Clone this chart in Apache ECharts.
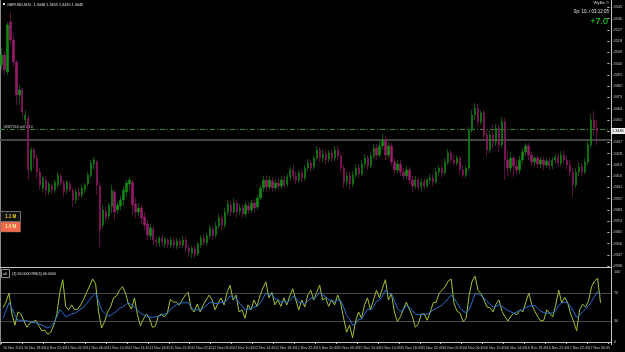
<!DOCTYPE html>
<html><head><meta charset="utf-8">
<script src="https://cdn.jsdelivr.net/npm/echarts@6/dist/echarts.min.js"></script>
<style>html,body{margin:0;padding:0;background:#000;}#c{width:625px;height:352px;}</style>
</head><body><div id="c"></div>
<script>
const candleOpen = [1.34988,1.35068,1.34932,1.35332,1.35188,1.35012,1.34748,1.34788,1.34548,1.34564,
1.34148,1.34308,1.34244,1.34132,1.34004,1.34068,1.33972,1.34020,1.33988,1.34028,
1.34100,1.34044,1.33988,1.34036,1.33988,1.33908,1.33972,1.33948,1.33988,1.34036,
1.34100,1.34196,1.34212,1.34020,1.33708,1.33812,1.33780,1.33860,1.33972,1.33828,
1.33860,1.33908,1.33972,1.34036,1.34052,1.33876,1.33812,1.33844,1.33772,1.33716,
1.33620,1.33676,1.33588,1.33564,1.33604,1.33556,1.33588,1.33548,1.33580,1.33540,
1.33580,1.33548,1.33588,1.33524,1.33484,1.33516,1.33476,1.33548,1.33604,1.33564,
1.33620,1.33676,1.33628,1.33700,1.33756,1.33708,1.33812,1.33868,1.33812,1.33884,
1.33820,1.33844,1.33796,1.33860,1.33828,1.33884,1.33852,1.33924,1.34004,1.34068,
1.34012,1.34060,1.34004,1.34044,1.34020,1.34068,1.34036,1.34092,1.34148,1.34100,
1.34068,1.34124,1.34084,1.34164,1.34204,1.34172,1.34244,1.34308,1.34244,1.34276,
1.34236,1.34284,1.34244,1.34308,1.34260,1.34164,1.34052,1.34100,1.34036,1.34108,
1.34164,1.34116,1.34196,1.34244,1.34180,1.34260,1.34324,1.34268,1.34340,1.34388,
1.34268,1.34340,1.34212,1.34148,1.34196,1.34132,1.34100,1.34148,1.34068,1.34020,
1.34068,1.34012,1.34052,1.34020,1.34068,1.34084,1.34052,1.34132,1.34164,1.34124,
1.34212,1.34284,1.34228,1.34204,1.34244,1.34148,1.34108,1.34164,1.34468,1.34588,
1.34644,1.34532,1.34604,1.34428,1.34308,1.34428,1.34372,1.34484,1.34348,1.34532,
1.34228,1.34164,1.34244,1.34180,1.34148,1.34228,1.34292,1.34340,1.34268,1.34212,
1.34244,1.34196,1.34228,1.34188,1.34220,1.34180,1.34228,1.34252,1.34204,1.34268,
1.34228,1.34188,1.34132,1.34028,1.34132,1.34172,1.34132,1.34212,1.34348,1.34548,
1.34484];
const candleClose = [1.35068,1.34948,1.35308,1.35188,1.35012,1.34748,1.34788,1.34612,1.34588,1.34148,
1.34308,1.34244,1.34132,1.34028,1.34084,1.33988,1.34036,1.33988,1.34052,1.34108,
1.34044,1.33972,1.34052,1.33988,1.33908,1.33972,1.33940,1.34004,1.34028,1.34108,
1.34204,1.34228,1.34028,1.33668,1.33828,1.33764,1.33868,1.33988,1.33812,1.33868,
1.33908,1.33988,1.34044,1.34068,1.33868,1.33812,1.33844,1.33764,1.33708,1.33628,
1.33684,1.33588,1.33572,1.33604,1.33572,1.33596,1.33556,1.33588,1.33548,1.33580,
1.33548,1.33588,1.33524,1.33492,1.33524,1.33476,1.33556,1.33604,1.33564,1.33620,
1.33684,1.33620,1.33700,1.33764,1.33708,1.33812,1.33876,1.33812,1.33884,1.33812,
1.33844,1.33796,1.33868,1.33828,1.33884,1.33844,1.33924,1.34004,1.34068,1.34012,
1.34068,1.34004,1.34044,1.34020,1.34068,1.34028,1.34092,1.34148,1.34100,1.34068,
1.34124,1.34084,1.34164,1.34204,1.34164,1.34244,1.34308,1.34244,1.34276,1.34228,
1.34284,1.34244,1.34308,1.34260,1.34164,1.34052,1.34100,1.34036,1.34108,1.34164,
1.34116,1.34196,1.34244,1.34180,1.34260,1.34324,1.34268,1.34340,1.34388,1.34268,
1.34340,1.34212,1.34148,1.34196,1.34132,1.34100,1.34148,1.34068,1.34020,1.34068,
1.34012,1.34052,1.34020,1.34068,1.34084,1.34052,1.34132,1.34164,1.34124,1.34212,
1.34284,1.34228,1.34204,1.34244,1.34148,1.34108,1.34164,1.34468,1.34588,1.34644,
1.34532,1.34604,1.34428,1.34308,1.34428,1.34372,1.34484,1.34348,1.34532,1.34228,
1.34164,1.34244,1.34180,1.34148,1.34228,1.34292,1.34340,1.34268,1.34212,1.34244,
1.34196,1.34228,1.34188,1.34220,1.34180,1.34228,1.34252,1.34204,1.34268,1.34228,
1.34188,1.34132,1.34028,1.34132,1.34172,1.34132,1.34212,1.34348,1.34548,1.34484,
1.34460];
const candleLow = [1.34948,1.34908,1.34908,1.35148,1.34980,1.34668,1.34668,1.34564,1.34508,1.34068,
1.34132,1.34164,1.34084,1.33988,1.33972,1.33940,1.33948,1.33956,1.33964,1.34004,
1.34020,1.33932,1.33956,1.33972,1.33852,1.33876,1.33908,1.33924,1.33964,1.34020,
1.34084,1.34148,1.33948,1.33532,1.33684,1.33732,1.33748,1.33804,1.33748,1.33796,
1.33828,1.33860,1.33932,1.33988,1.33788,1.33764,1.33780,1.33716,1.33668,1.33588,
1.33588,1.33548,1.33532,1.33532,1.33540,1.33524,1.33524,1.33524,1.33516,1.33516,
1.33524,1.33524,1.33492,1.33452,1.33444,1.33444,1.33460,1.33524,1.33540,1.33540,
1.33596,1.33588,1.33604,1.33676,1.33668,1.33684,1.33788,1.33780,1.33796,1.33764,
1.33788,1.33764,1.33772,1.33796,1.33804,1.33812,1.33828,1.33908,1.33972,1.33972,
1.33988,1.33972,1.33980,1.33988,1.33996,1.34004,1.34012,1.34060,1.34068,1.34036,
1.34044,1.34052,1.34060,1.34140,1.34132,1.34148,1.34220,1.34212,1.34212,1.34196,
1.34212,1.34212,1.34220,1.34228,1.34132,1.34004,1.34020,1.33988,1.34012,1.34084,
1.34084,1.34100,1.34172,1.34148,1.34164,1.34236,1.34228,1.34244,1.34308,1.34228,
1.34244,1.34180,1.34108,1.34124,1.34100,1.34068,1.34076,1.34036,1.33972,1.33996,
1.33988,1.33980,1.33996,1.34004,1.34036,1.34020,1.34036,1.34100,1.34084,1.34108,
1.34188,1.34204,1.34180,1.34180,1.34116,1.34084,1.34084,1.34140,1.34444,1.34548,
1.34500,1.34508,1.34388,1.34252,1.34284,1.34324,1.34340,1.34292,1.34324,1.34068,
1.34100,1.34132,1.34092,1.34108,1.34116,1.34196,1.34260,1.34228,1.34180,1.34180,
1.34164,1.34164,1.34148,1.34164,1.34148,1.34156,1.34196,1.34172,1.34180,1.34196,
1.34148,1.34100,1.33932,1.34004,1.34100,1.34100,1.34116,1.34188,1.34324,1.34428,
1.34348];
const candleHigh = [1.35124,1.35092,1.35332,1.35412,1.35228,1.35028,1.34828,1.34804,1.34628,1.34588,
1.34332,1.34324,1.34268,1.34164,1.34100,1.34100,1.34052,1.34036,1.34068,1.34132,
1.34124,1.34068,1.34068,1.34060,1.34004,1.34004,1.34012,1.34028,1.34044,1.34132,
1.34228,1.34252,1.34228,1.34052,1.33868,1.33852,1.33884,1.34028,1.33988,1.33892,
1.33940,1.34020,1.34068,1.34092,1.34068,1.33924,1.33884,1.33868,1.33812,1.33748,
1.33716,1.33700,1.33620,1.33620,1.33628,1.33612,1.33604,1.33612,1.33604,1.33604,
1.33604,1.33620,1.33620,1.33548,1.33540,1.33540,1.33572,1.33628,1.33636,1.33652,
1.33708,1.33700,1.33732,1.33796,1.33788,1.33844,1.33908,1.33900,1.33924,1.33908,
1.33876,1.33876,1.33892,1.33892,1.33908,1.33916,1.33948,1.34028,1.34100,1.34108,
1.34100,1.34092,1.34076,1.34084,1.34100,1.34100,1.34116,1.34172,1.34188,1.34132,
1.34148,1.34156,1.34188,1.34236,1.34228,1.34268,1.34340,1.34332,1.34308,1.34300,
1.34308,1.34308,1.34340,1.34340,1.34284,1.34188,1.34132,1.34132,1.34140,1.34196,
1.34196,1.34228,1.34276,1.34268,1.34292,1.34356,1.34356,1.34380,1.34436,1.34420,
1.34372,1.34364,1.34244,1.34228,1.34228,1.34164,1.34180,1.34172,1.34100,1.34100,
1.34092,1.34084,1.34076,1.34092,1.34116,1.34108,1.34164,1.34188,1.34196,1.34244,
1.34316,1.34308,1.34268,1.34268,1.34260,1.34188,1.34188,1.34492,1.34628,1.34684,
1.34676,1.34628,1.34628,1.34468,1.34468,1.34516,1.34516,1.34508,1.34572,1.34564,
1.34308,1.34292,1.34268,1.34228,1.34260,1.34324,1.34364,1.34364,1.34292,1.34268,
1.34268,1.34252,1.34252,1.34244,1.34244,1.34252,1.34276,1.34284,1.34300,1.34308,
1.34260,1.34228,1.34164,1.34164,1.34212,1.34204,1.34244,1.34388,1.34596,1.34620,
1.34548];
const oscFast = [49,57,70,40,24,43,40,30,21,27,29,31,23,16,17,11,14,24,39,71,
89,50,46,53,46,47,53,61,71,80,90,83,43,20,29,43,50,63,66,74,
79,70,54,47,63,39,23,33,40,34,21,23,37,40,36,41,61,57,57,53,
60,67,71,47,43,54,43,53,60,67,60,46,56,63,53,71,81,60,67,43,
46,34,53,46,60,51,66,77,86,63,71,53,60,51,63,53,66,76,60,46,
60,50,67,74,60,71,81,60,63,51,60,53,67,56,34,14,24,6,29,43,
34,53,63,46,60,74,63,77,89,60,69,43,29,36,47,57,47,37,21,26,
40,40,31,43,56,57,70,74,79,87,90,54,44,41,29,34,66,87,94,74,
69,60,50,49,43,54,60,44,36,30,37,41,39,46,43,57,70,53,44,36,
30,31,46,41,36,53,74,56,64,56,40,29,16,46,54,50,59,79,87,91,56];
const oscSlow = [34,45,56,48,38,31,31,31,30,29,28,27,26,24,22,20,22,27,36,46,
42,36,38,40,41,44,47,50,55,60,66,70,58,46,41,37,38,41,44,48,
50,53,56,53,50,46,41,39,37,36,35,36,37,38,40,41,46,50,53,55,
56,56,56,50,46,46,46,48,52,56,57,55,55,57,56,60,66,63,63,56,
52,46,47,47,50,51,55,62,70,67,68,62,61,57,58,56,59,65,63,56,
57,54,58,63,62,65,71,67,65,60,60,57,60,59,50,38,33,24,26,32,
33,40,47,46,50,58,60,66,74,69,69,59,48,44,46,52,50,45,40,39,
39,40,40,42,46,48,50,53,57,62,67,62,56,48,44,42,46,57,69,69,
66,63,58,54,50,51,53,51,48,45,43,41,43,45,46,49,51,52,52,48,
44,42,41,41,42,45,52,56,57,56,50,43,35,38,43,47,52,58,65,72,66];
const timeLabels = ["10 Nov 2021","10 Nov 18:45","10 Nov 22:45","11 Nov 02:45","11 Nov 06:45","11 Nov 10:45","11 Nov 14:45","11 Nov 18:45","11 Nov 22:45","12 Nov 02:45","12 Nov 06:45","12 Nov 10:45","12 Nov 14:45","12 Nov 18:45","12 Nov 22:45","15 Nov 02:45","15 Nov 06:45","15 Nov 10:45","15 Nov 14:45","15 Nov 18:45","15 Nov 22:45","16 Nov 02:45","16 Nov 06:45","16 Nov 10:45","16 Nov 14:45","16 Nov 18:45","16 Nov 22:45","17 Nov 02:45","17 Nov 06:45"];
const oscLevels = [0, 30, 70, 100];
const priceMin = 1.3338, priceMax = 1.35508, priceStep = 0.0009;
const orderPrice = 1.34476;
const markPrice = 1.34388;

const GREEN = '#108a10', PINK = '#951a68', FG = '#c4c4c4';
const FONT = 'Liberation Sans';
const nCat = 204;
const cats = [];
for (let i = 0; i < nCat; i++) cats.push(String(i));
const rows = candleOpen.map((o, i) => [o, candleClose[i], candleLow[i], candleHigh[i]]);
const last = rows.length - 1;

const chart = echarts.init(document.getElementById('c'), null, {renderer: 'canvas'});
const option = {
  backgroundColor: '#000000',
  animation: false,
  grid: [
    {left: 0, right: 14, top: 0, height: 266},
    {left: 0, right: 14, top: 272, height: 70}
  ],
  xAxis: [
    {type: 'category', gridIndex: 0, data: cats, boundaryGap: true,
     axisLine: {show: false}, axisTick: {show: false}, axisLabel: {show: false}, splitLine: {show: false}},
    {type: 'category', gridIndex: 1, data: cats, boundaryGap: true, offset: 2,
     axisLine: {show: true, lineStyle: {color: FG, width: 1}},
     axisTick: {show: true, interval: 6, length: 2, lineStyle: {color: FG}},
     axisLabel: {show: true, interval: 6, showMinLabel: true, hideOverlap: false, align: 'left', margin: 2, fontSize: 3.6, color: FG, fontFamily: FONT,
       formatter: (v) => timeLabels[Math.round(Number(v) / 7)] || ''},
     splitLine: {show: false}}
  ],
  yAxis: [
    {type: 'value', gridIndex: 0, position: 'right', min: priceMin, max: priceMax, interval: priceStep,
     axisLine: {show: false}, axisTick: {show: true, length: 2, lineStyle: {color: FG}},
     splitLine: {show: false},
     axisLabel: {show: true, showMaxLabel: false, margin: 3, fontSize: 3.8, color: FG, fontFamily: FONT,
       formatter: v => v.toFixed(4)}},
    {type: 'value', gridIndex: 1, position: 'right', min: 0, max: 100, interval: 10,
     axisLine: {show: false}, axisTick: {show: false}, splitLine: {show: false},
     axisLabel: {show: true, margin: 3, fontSize: 3.8, color: FG, fontFamily: FONT,
       formatter: v => oscLevels.indexOf(v) >= 0 ? String(v) : ''}}
  ],
  series: [
    {type: 'candlestick', xAxisIndex: 0, yAxisIndex: 0, data: rows, barWidth: 1.8, z: 3,
     itemStyle: {color: GREEN, color0: PINK, borderColor: GREEN, borderColor0: PINK, borderWidth: 0.6}},
    {type: 'line', xAxisIndex: 1, yAxisIndex: 1, data: oscFast, showSymbol: false, symbol: 'none',
     lineStyle: {color: '#a2c431', width: 1},
     markLine: {silent: true, symbol: ['none', 'none'], animation: false,
       lineStyle: {color: '#8c8c8c', type: 'dotted', width: 1}, label: {show: false},
       data: [{yAxis: 70}, {yAxis: 30}]}},
    {type: 'line', xAxisIndex: 1, yAxisIndex: 1, data: oscSlow, showSymbol: false, symbol: 'none',
     lineStyle: {color: '#2a6fd6', width: 1}}
  ],
  graphic: [
    {type: 'line', id: 'leftBorder', shape: {x1: 0.5, y1: 0, x2: 0.5, y2: 345}, style: {stroke: '#8a8a8a', lineWidth: 1}, silent: true},
    {type: 'line', id: 'rightAxis', shape: {x1: 611.5, y1: 0, x2: 611.5, y2: 345}, style: {stroke: FG, lineWidth: 1}, silent: true},
    {type: 'line', id: 'sep', shape: {x1: 0, y1: 267.5, x2: 611, y2: 267.5}, style: {stroke: FG, lineWidth: 1}, silent: true},
    {type: 'rect', id: 'hdrIcon', shape: {x: 3, y: 3, width: 2, height: 2}, style: {fill: '#e0e0e0'}, silent: true},
    {type: 'text', id: 'hdr', left: 7, top: 2.5, silent: true,
     style: {text: 'GBPUSD,M15  ' + rows[last][0].toFixed(4) + ' ' + rows[last][3].toFixed(4) + ' ' + rows[last][2].toFixed(4) + ' ' + rows[last][1].toFixed(4),
             fill: '#e0e0e0', fontSize: 3.8, fontFamily: FONT}},
    {type: 'text', id: 'tr1', right: 16, top: 1, silent: true, style: {text: 'Wyllie ©', fill: '#e0e0e0', fontSize: 4.2, fontFamily: FONT}},
    {type: 'text', id: 'tr2', right: 16, top: 9, silent: true, style: {text: 'Sp: 10../ 03:12:05', fill: '#e0e0e0', fontSize: 4.5, fontFamily: FONT}},
    {type: 'text', id: 'tr3', right: 17, top: 17, silent: true, style: {text: '+7.0', fill: '#22e022', fontSize: 9, fontFamily: FONT}},
    {type: 'rect', id: 'box1', shape: {x: 0.5, y: 211.5, width: 20, height: 10}, style: {fill: '#111111', stroke: '#707070', lineWidth: 1}, silent: true},
    {type: 'text', id: 'box1t', left: 5, top: 214, silent: true, style: {text: '1.1 M', fill: '#e8d020', fontSize: 4.5, fontFamily: FONT, fontWeight: 'bold'}},
    {type: 'rect', id: 'box2', shape: {x: 0.5, y: 222, width: 20, height: 10}, style: {fill: '#f4694a', stroke: '#707070', lineWidth: 0.5}, silent: true},
    {type: 'text', id: 'box2t', left: 5, top: 224.5, silent: true, style: {text: '1.4 M', fill: '#f8f0a0', fontSize: 4.5, fontFamily: FONT, fontWeight: 'bold'}},
    {type: 'rect', id: 'indBox', shape: {x: 1.5, y: 269.5, width: 8, height: 8}, style: {fill: '#000', stroke: '#909090', lineWidth: 1}, silent: true},
    {type: 'text', id: 'indBoxT', left: 3, top: 272, silent: true, style: {text: 'alt', fill: '#e0e0e0', fontSize: 3.5, fontFamily: FONT}},
    {type: 'text', id: 'indLbl', left: 12, top: 271.5, silent: true,
     style: {text: '(3) ' + oscFast[last].toFixed(4) + ' RSI(3) ' + oscSlow[last].toFixed(4), fill: '#e0e0e0', fontSize: 3.6, fontFamily: FONT}}
  ]
};
chart.setOption(option);
const py = chart.convertToPixel({yAxisIndex: 0}, rows[last][1]);
const pyOrder = Math.round(chart.convertToPixel({yAxisIndex: 0}, orderPrice)) + 0.5;
const pyMark = Math.round(chart.convertToPixel({yAxisIndex: 0}, markPrice));
chart.setOption({graphic: [
  {type: 'line', id: 'markLn', z: 1, silent: true, shape: {x1: 0, y1: pyMark, x2: 611, y2: pyMark},
   style: {stroke: '#464646', lineWidth: 2}},
  {type: 'line', id: 'orderLn', z: 1, silent: true, shape: {x1: 0, y1: pyOrder, x2: 611, y2: pyOrder},
   style: {stroke: '#2e8a2e', lineWidth: 1, lineDash: [5, 2, 1, 2]}},
  {type: 'text', id: 'orderTxt', left: 3, top: pyOrder - 4.5, silent: true, z: 2,
   style: {text: '#8327053 sell 0.10', fill: '#d8d8d8', fontSize: 3.5, fontFamily: FONT}},
  {type: 'rect', id: 'pxBox', shape: {x: 611, y: py - 3, width: 14, height: 6}, style: {fill: '#f0f0f0'}, silent: true, z: 100},
  {type: 'text', id: 'pxTxt', left: 612, top: py - 2.2, silent: true, z: 101,
   style: {text: rows[last][1].toFixed(4), fill: '#000', fontSize: 3.8, fontFamily: FONT}}
]});
</script></body></html>
